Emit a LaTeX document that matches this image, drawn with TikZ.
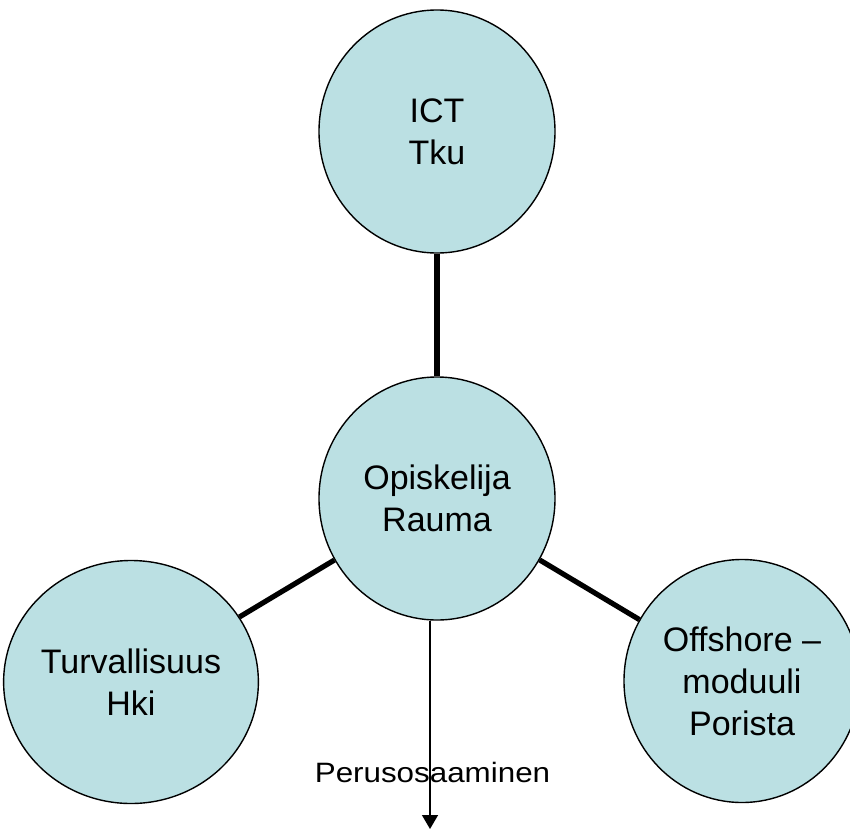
\documentclass[tikz,border=0pt]{standalone}
\usepackage{fontspec}
\setmainfont{Liberation Sans}
\usetikzlibrary{shapes.geometric,arrows.meta}
\definecolor{bubblefill}{RGB}{187,224,227}
\tikzset{
  bubble/.style={ellipse, draw=black, line width=1.4pt, fill=bubblefill,
    minimum width=236pt, minimum height=243pt, inner sep=0pt,
    align=center, font=\fontsize{34}{42}\selectfont},
  link/.style={line width=5.2pt},
  flow/.style={line width=1.4pt, -{Triangle[width=16pt,length=14pt]}},
  lbl/.style={font=\fontsize{28}{34}\selectfont, inner sep=0pt}
}
\begin{document}
\begin{tikzpicture}[x=1pt,y=-1pt]
\clip (0,0) rectangle (850,830);
\node[bubble] (ict) at (437,131.5) {ICT\\Tku};
\node[bubble] (opi) at (437,498.5) {Opiskelija\\Rauma};
\node[bubble] (tur) at (131,682) {Turvallisuus\\Hki};
\node[bubble] (off) at (742,681) {Offshore --\\moduuli\\ Porista};
\draw[link] (ict) -- (opi);
\draw[link] (opi) -- (tur);
\draw[link] (opi) -- (off);
\node[lbl, anchor=base] (per) at (432.5,782) {\scalebox{1.12}[1]{Perusosaaminen}};
\coordinate (tip) at (430,829);
\draw[flow] (opi.south -| tip) -- (tip);
\end{tikzpicture}
\end{document}
